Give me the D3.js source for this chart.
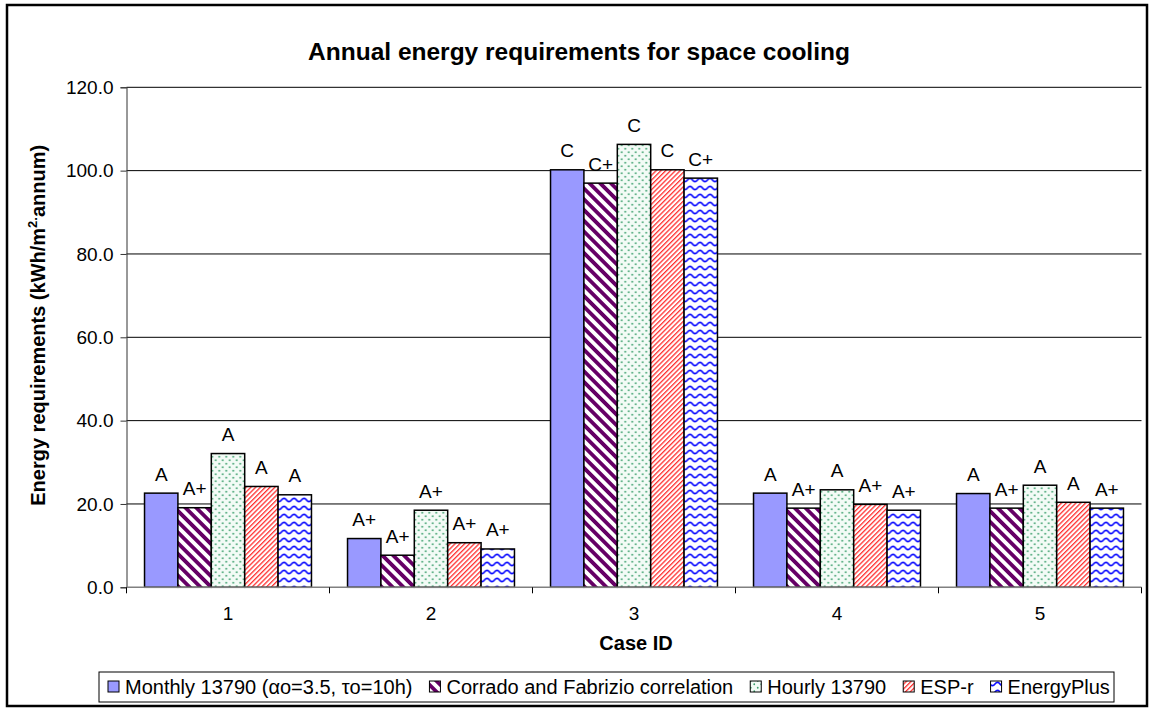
<!DOCTYPE html>
<html>
<head>
<meta charset="utf-8">
<script src="https://cdn.jsdelivr.net/npm/d3@7"></script>
<style>
  html, body { margin: 0; padding: 0; background: #fff; }
  svg { display: block; font-family: Arial, "Liberation Sans", sans-serif; }
</style>
</head>
<body>
<svg id="chart" width="1150" height="709"></svg>
<script>
// Case IDs along the x axis
const categories = ["1", "2", "3", "4", "5"];

// Series names (legend order)
const seriesNames = [
  "Monthly 13790 (αo=3.5, τo=10h)",
  "Corrado and Fabrizio correlation",
  "Hourly 13790",
  "ESP-r",
  "EnergyPlus"
];

// Annual cooling requirement per case, kWh/m²·annum
const monthly13790 = [22.6, 11.7, 100.2, 22.6, 22.5];
const corradoFabrizio = [19.1, 7.7, 97.0, 19.0, 19.0];
const hourly13790 = [32.1, 18.5, 106.3, 23.4, 24.5];
const espR = [24.2, 10.7, 100.2, 19.9, 20.4];
const energyPlus = [22.2, 9.2, 98.2, 18.5, 19.0];

// Class labels printed above each bar
const monthlyLabels = ["A", "A+", "C", "A", "A"];
const corradoLabels = ["A+", "A+", "C+", "A+", "A+"];
const hourlyLabels = ["A", "A+", "C", "A", "A"];
const espLabels = ["A", "A+", "C", "A+", "A"];
const energyPlusLabels = ["A", "A+", "C+", "A+", "A+"];

// Y axis ticks
const yTicks = [0, 20, 40, 60, 80, 100, 120];

const seriesValues = [monthly13790, corradoFabrizio, hourly13790, espR, energyPlus];
const seriesLabels = [monthlyLabels, corradoLabels, hourlyLabels, espLabels, energyPlusLabels];
const fills = ["url(#pMonthly)", "url(#pCorrado)", "url(#pHourly)", "url(#pEsp)", "url(#pEplus)"];

const svg = d3.select("#chart");

// ---- fill patterns ----
const defs = svg.append("defs");

// solid periwinkle
const pm = defs.append("pattern").attr("id", "pMonthly")
  .attr("patternUnits", "userSpaceOnUse").attr("width", 4).attr("height", 4);
pm.append("rect").attr("width", 4).attr("height", 4).attr("fill", "#9999FF");

// wide downward diagonal, dark purple
const pc = defs.append("pattern").attr("id", "pCorrado")
  .attr("patternUnits", "userSpaceOnUse").attr("width", 7.6).attr("height", 7.6)
  .attr("patternTransform", "rotate(-45)");
pc.append("rect").attr("width", 7.6).attr("height", 7.6).attr("fill", "#fff");
pc.append("rect").attr("x", 0).attr("width", 3.8).attr("height", 7.6).attr("fill", "#660066");

// small dots, green
const ph = defs.append("pattern").attr("id", "pHourly")
  .attr("patternUnits", "userSpaceOnUse").attr("width", 7).attr("height", 7);
ph.append("rect").attr("width", 7).attr("height", 7).attr("fill", "#F3FBF6");
ph.append("circle").attr("cx", 1.75).attr("cy", 1.75).attr("r", 0.9).attr("fill", "#3C9F6C");
ph.append("circle").attr("cx", 5.25).attr("cy", 5.25).attr("r", 0.9).attr("fill", "#3C9F6C");

// light upward diagonal, red
const pe = defs.append("pattern").attr("id", "pEsp")
  .attr("patternUnits", "userSpaceOnUse").attr("width", 3.4).attr("height", 3.4)
  .attr("patternTransform", "rotate(45)");
pe.append("rect").attr("width", 3.4).attr("height", 3.4).attr("fill", "#fff");
pe.append("rect").attr("x", 0).attr("width", 1.3).attr("height", 3.4).attr("fill", "#FF3030");

// wave, blue
const pw = defs.append("pattern").attr("id", "pEplus")
  .attr("patternUnits", "userSpaceOnUse").attr("width", 10).attr("height", 8);
pw.append("rect").attr("width", 10).attr("height", 8).attr("fill", "#fff");
pw.append("path").attr("d", "M-5 4 Q-2.5 0.8 0 4 T5 4 T10 4 T15 4")
  .attr("fill", "none").attr("stroke", "#1010FF").attr("stroke-width", 1.6);

// ---- outer frame ----
svg.append("rect").attr("x", 7).attr("y", 5).attr("width", 1140).attr("height", 701)
  .attr("fill", "#fff").attr("stroke", "#000").attr("stroke-width", 2.5);

// ---- scales ----
const plotLeft = 126.5, plotRight = 1141.5, plotTop = 87.3, plotBottom = 587.3;
const x0 = d3.scaleBand().domain(categories).range([plotLeft, plotRight]).padding(0);
const x1 = d3.scaleBand().domain(d3.range(seriesNames.length))
  .range([0, x0.bandwidth()]).paddingInner(0).paddingOuter(0.54);
const y = d3.scaleLinear().domain([0, 120]).range([plotBottom, plotTop]);

// ---- gridlines ----
svg.append("g").selectAll("line").data(yTicks.filter(d => d > 0)).join("line")
  .attr("x1", plotLeft).attr("x2", plotRight)
  .attr("y1", d => y(d)).attr("y2", d => y(d))
  .attr("stroke", "#000").attr("stroke-width", 1);

// ---- y axis ----
const yAxis = svg.append("g").attr("transform", `translate(${plotLeft},0)`)
  .call(d3.axisLeft(y).tickValues(yTicks).tickFormat(d3.format(".1f")).tickSize(6).tickPadding(7));
yAxis.select(".domain").attr("stroke", "#333").attr("stroke-width", 1);
yAxis.selectAll(".tick line").attr("stroke", "#333");
yAxis.selectAll(".tick text").attr("font-size", 19).attr("fill", "#000")
  .attr("font-family", "Arial, 'Liberation Sans', sans-serif");

// ---- bars ----
const groups = svg.append("g").selectAll("g").data(categories).join("g")
  .attr("transform", d => `translate(${x0(d)},0)`);

const cells = (c, ci) => seriesValues.map((vals, si) => ({ si, v: vals[ci], lab: seriesLabels[si][ci] }));

groups.selectAll("rect").data(cells).join("rect")
  .attr("x", d => x1(d.si))
  .attr("y", d => y(d.v))
  .attr("width", x1.bandwidth())
  .attr("height", d => y(0) - y(d.v))
  .attr("fill", d => fills[d.si])
  .attr("stroke", "#000").attr("stroke-width", 1.5);

groups.selectAll("text").data(cells).join("text")
  .attr("x", d => x1(d.si) + x1.bandwidth() / 2)
  .attr("y", d => y(d.v) - 12.5)
  .attr("text-anchor", "middle")
  .attr("font-size", 19)
  .text(d => d.lab);

// ---- x axis ----
const xAxisG = svg.append("g").attr("transform", `translate(0,${plotBottom})`);
xAxisG.append("line").attr("x1", plotLeft).attr("x2", plotRight)
  .attr("stroke", "#808080").attr("stroke-width", 1.5);
const bounds = categories.map(c => x0(c)).concat([plotRight]);
xAxisG.selectAll("line.tk").data(bounds).join("line").attr("class", "tk")
  .attr("x1", d => d).attr("x2", d => d).attr("y1", 0).attr("y2", 6)
  .attr("stroke", "#000").attr("stroke-width", 1);
xAxisG.selectAll("text").data(categories).join("text")
  .attr("x", d => x0(d) + x0.bandwidth() / 2).attr("y", 33)
  .attr("text-anchor", "middle").attr("font-size", 19).text(d => d);

// ---- titles ----
svg.append("text").attr("x", 579).attr("y", 60).attr("text-anchor", "middle")
  .attr("font-size", 24.5).attr("font-weight", "bold")
  .text("Annual energy requirements for space cooling");

svg.append("text").attr("x", 636).attr("y", 650).attr("text-anchor", "middle")
  .attr("font-size", 20).attr("font-weight", "bold").text("Case ID");

const yt = svg.append("text")
  .attr("transform", `translate(45,${(plotTop + plotBottom) / 2 - 12}) rotate(-90)`)
  .attr("text-anchor", "middle").attr("font-size", 20).attr("font-weight", "bold");
yt.append("tspan").text("Energy requirements (kWh/m");
yt.append("tspan").attr("font-size", 13).attr("dy", -8).text("2.");
yt.append("tspan").attr("dy", 8).text("annum)");

// ---- legend ----
const lg = svg.append("g");
lg.append("rect").attr("x", 99).attr("y", 672).attr("width", 1015).attr("height", 30)
  .attr("fill", "#fff").attr("stroke", "#000").attr("stroke-width", 1);
let lx = 108;
seriesNames.forEach((name, i) => {
  lg.append("rect").attr("x", lx).attr("y", 681).attr("width", 11).attr("height", 11)
    .attr("fill", fills[i]).attr("stroke", "#000").attr("stroke-width", 1);
  const t = lg.append("text").attr("x", lx + 17).attr("y", 694).attr("font-size", 20).text(name);
  lx += 17 + t.node().getComputedTextLength() + 17;
});
</script>
</body>
</html>
